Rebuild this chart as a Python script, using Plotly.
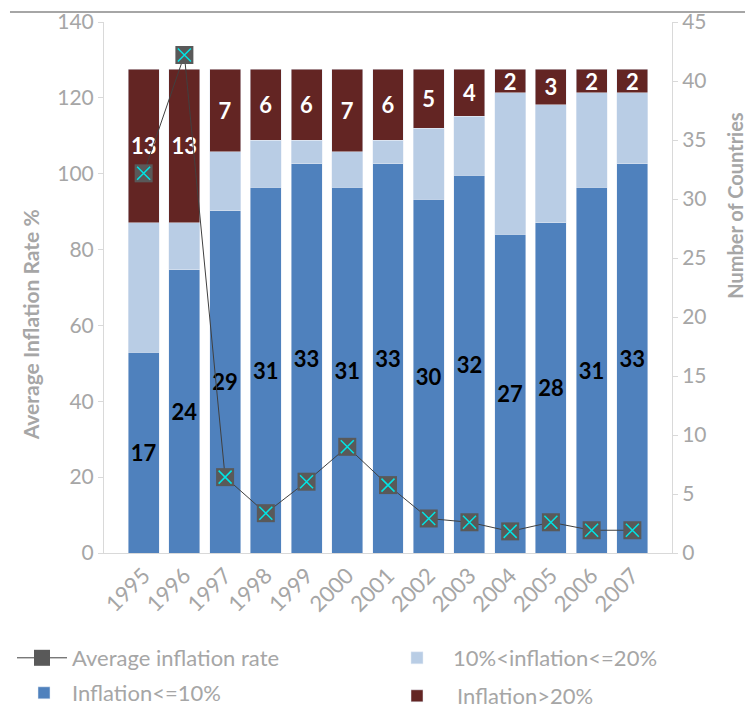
import plotly.graph_objects as go

years = ["1995", "1996", "1997", "1998", "1999", "2000", "2001",
         "2002", "2003", "2004", "2005", "2006", "2007"]
low_infl = [17, 24, 29, 31, 33, 31, 33, 30, 32, 27, 28, 31, 33]
mid_infl = [11, 4, 5, 4, 2, 3, 2, 6, 5, 12, 10, 8, 6]
high_infl = [13, 13, 7, 6, 6, 7, 6, 5, 4, 2, 3, 2, 2]
avg_rate = [100.1, 131.3, 20.0, 10.5, 18.8, 28.0, 17.9, 9.1, 8.1, 5.7, 8.1, 6.0, 6.0]

FONT = "Lato"
GRAY = "#a6a6a6"
AXLINE = "#d9d9d9"

# figure is drawn inside the page's 8px body margin
W, H = 746, 702

fig = go.Figure()
fig.add_trace(go.Bar(
    x=years, y=low_infl, name="Inflation<=10%", marker_color="#4f81bd",
    text=low_infl, textposition="inside", insidetextanchor="middle", textangle=0,
    textfont=dict(color="black", size=22, family=FONT, weight="bold"),
    legend="legend3", yaxis="y"))
fig.add_trace(go.Bar(
    x=years, y=mid_infl, name="10%<inflation<=20%", marker_color="#b9cde5",
    legend="legend2", yaxis="y"))
fig.add_trace(go.Bar(
    x=years, y=high_infl, name="Inflation>20%", marker_color="#632523",
    text=high_infl, textposition="inside", insidetextanchor="middle", textangle=0,
    textfont=dict(color="white", size=22, family=FONT, weight="bold"),
    legend="legend4", yaxis="y"))
fig.add_trace(go.Scatter(
    x=years, y=avg_rate, name="Average inflation rate", mode="lines+markers",
    line=dict(color="#404040", width=1),
    marker=dict(symbol="square", size=18, color="#595959"),
    legend="legend", yaxis="y2"))
fig.add_trace(go.Scatter(
    x=years, y=avg_rate, mode="markers", showlegend=False, hoverinfo="skip",
    marker=dict(symbol="x-thin", size=13, line=dict(color="#00e5e5", width=1.5)),
    yaxis="y2"))


def leg(x_px, y_px, item_w):
    return dict(orientation="h", xref="container", yref="container",
                xanchor="left", yanchor="middle",
                x=x_px / W, y=1 - y_px / H, itemwidth=item_w,
                font=dict(size=22, color=GRAY, family=FONT),
                bgcolor="rgba(0,0,0,0)")


fig.update_layout(
    width=W, height=H,
    margin=dict(l=96, r=82, t=14, b=157, autoexpand=False),
    paper_bgcolor="white", plot_bgcolor="white",
    barmode="stack", bargap=0.24,
    font=dict(family=FONT, color=GRAY, size=20),
    uniformtext=dict(minsize=22, mode="show"),
    showlegend=True,
    xaxis=dict(type="category", tickangle=-45, showgrid=False, automargin=False,
               showline=True, linecolor=AXLINE, ticks="",
               tickfont=dict(size=22, color=GRAY)),
    yaxis=dict(side="right", range=[0, 45], dtick=5, showgrid=False,
               automargin=False, showline=True, linecolor=AXLINE,
               ticks="outside", tickcolor=AXLINE, ticklen=5, zeroline=False,
               tickfont=dict(size=21, color=GRAY)),
    yaxis2=dict(side="left", overlaying="y", range=[0, 140], dtick=20,
                automargin=False, showgrid=False, showline=True,
                linecolor=AXLINE, ticks="outside", tickcolor=AXLINE,
                ticklen=5, zeroline=False,
                tickfont=dict(size=21, color=GRAY)),
    legend=leg(4, 650, 50),
    legend2=leg(373, 650, 62),
    legend3=leg(8, 685, 46),
    legend4=leg(369, 688, 70),
    annotations=[
        dict(text="<b>Average Inflation Rate %</b>", xref="paper", yref="paper",
             x=-0.130, y=0.429, xanchor="center", yanchor="middle",
             textangle=-90, showarrow=False,
             font=dict(size=21, color=GRAY, family=FONT)),
        dict(text="<b>Number of Countries</b>", xref="paper", yref="paper",
             x=1.112, y=0.655, xanchor="center", yanchor="middle",
             textangle=-90, showarrow=False,
             font=dict(size=20, color=GRAY, family=FONT)),
    ],
    shapes=[dict(type="line", xref="paper", yref="paper",
                 x0=-0.1655, x1=1.1285, y0=1.0188, y1=1.0188,
                 line=dict(color="#a6a6a6", width=2))],
)

fig.write_html("out.html")
